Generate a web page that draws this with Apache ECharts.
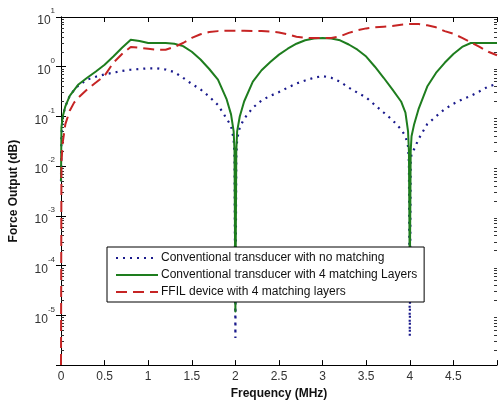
<!DOCTYPE html>
<html>
<head>
<meta charset="utf-8">
<script src="https://cdn.jsdelivr.net/npm/echarts@6/dist/echarts.min.js"></script>
<style>
html,body{margin:0;padding:0;background:#fff;}
#chart{width:500px;height:405px;}
</style>
</head>
<body>
<div id="chart"></div>
<script>
// Frequency samples (MHz)
var frequency = [0, 0.005, 0.02, 0.05, 0.1, 0.15, 0.2, 0.3, 0.4, 0.5, 0.6, 0.7, 0.8, 0.9, 1.0, 1.1, 1.2, 1.3, 1.4, 1.5, 1.6, 1.7, 1.8, 1.9, 1.95, 1.98, 1.99, 2.0, 2.01, 2.02, 2.05, 2.1, 2.2, 2.3, 2.4, 2.5, 2.6, 2.7, 2.8, 2.9, 3.0, 3.1, 3.2, 3.3, 3.4, 3.5, 3.6, 3.7, 3.8, 3.9, 3.95, 3.98, 3.99, 4.0, 4.01, 4.02, 4.05, 4.1, 4.2, 4.3, 4.4, 4.5, 4.6, 4.7, 4.8, 4.9, 5.0];

// Conventional transducer with no matching (blue dotted)
var noMatching = [0.005, 0.04, 0.1, 0.16, 0.26, 0.34, 0.42, 0.55, 0.63, 0.7, 0.76, 0.82, 0.87, 0.9, 0.93, 0.93, 0.88, 0.78, 0.6, 0.45, 0.35, 0.25, 0.17, 0.09, 0.065, 0.035, 0.015, 3.5e-6, 0.015, 0.035, 0.06, 0.09, 0.15, 0.21, 0.26, 0.31, 0.38, 0.46, 0.53, 0.6, 0.65, 0.6, 0.5, 0.38, 0.3, 0.24, 0.17, 0.12, 0.085, 0.055, 0.04, 0.025, 0.012, 3.8e-6, 0.012, 0.018, 0.022, 0.035, 0.07, 0.1, 0.14, 0.18, 0.22, 0.26, 0.32, 0.4, 0.45];

// Conventional transducer with 4 matching layers (green solid)
var fourLayers = [0.005, 0.06, 0.1, 0.16, 0.26, 0.34, 0.44, 0.6, 0.8, 1.1, 1.6, 2.4, 3.5, 3.3, 3.0, 3.0, 3.0, 2.9, 2.6, 2.0, 1.4, 0.9, 0.55, 0.22, 0.11, 0.05, 0.02, 1.2e-5, 0.02, 0.05, 0.1, 0.2, 0.5, 0.85, 1.25, 1.75, 2.3, 2.9, 3.4, 3.7, 3.8, 3.7, 3.4, 2.8, 2.2, 1.6, 1.0, 0.6, 0.35, 0.2, 0.12, 0.05, 0.02, 5e-5, 0.02, 0.04, 0.07, 0.14, 0.4, 0.75, 1.2, 1.8, 2.5, 3.0, 3.0, 3.0, 3.0];

// FFIL device with 4 matching layers (red dashed)
var ffil = [1e-6, 0.012, 0.03, 0.07, 0.13, 0.19, 0.24, 0.35, 0.48, 0.66, 1.2, 1.8, 2.5, 2.4, 2.3, 2.2, 2.2, 2.5, 3.0, 3.8, 4.5, 5.0, 5.2, 5.3, 5.3, 5.3, 5.3, 5.3, 5.3, 5.3, 5.3, 5.3, 5.2, 5.2, 5.1, 4.9, 4.5, 4.0, 3.8, 3.8, 3.8, 3.8, 4.1, 4.8, 5.4, 5.9, 6.2, 6.4, 6.6, 7.0, 7.1, 7.2, 7.2, 7.2, 7.2, 7.2, 7.2, 7.2, 6.8, 6.2, 5.2, 4.6, 3.8, 3.1, 2.5, 2.0, 1.7];

var seriesNames = ['Conventional transducer with no matching', 'Conventional transducer with 4 matching Layers', 'FFIL device with 4 matching layers'];
var xTickLabels = [0, 0.5, 1, 1.5, 2, 2.5, 3, 3.5, 4, 4.5];
var yLabelExponents = [-5, -4, -3, -2, -1, 0, 1];

function pairs(ys) {
  return frequency.map(function (f, i) { return [f, ys[i]]; });
}

// minor log tick positions (2..9 x 10^d)
var minorTickValues = [];
for (var d = -6; d < 1; d++) {
  for (var k = 2; k <= 9; k++) minorTickValues.push(k * Math.pow(10, d));
}

var font = 'Liberation Sans, Arial, sans-serif';
var chart = echarts.init(document.getElementById('chart'), null, {renderer: 'canvas'});

var xCommon = {
  type: 'value', min: 0, max: 5, interval: 0.5,
  axisLine: {show: true, onZero: false, lineStyle: {color: '#000', width: 1}},
  axisTick: {show: true, inside: true, length: 5, lineStyle: {color: '#000'}},
  splitLine: {show: false}
};
var yCommon = {
  type: 'log', logBase: 10, min: 1e-6, max: 10,
  axisLine: {show: true, lineStyle: {color: '#000', width: 1}},
  axisTick: {show: true, inside: true, length: 5, lineStyle: {color: '#000'}},
  splitLine: {show: false}
};
var yMinor = {
  type: 'log', logBase: 10, min: 1e-6, max: 10,
  axisLine: {show: false},
  axisLabel: {show: false},
  splitLine: {show: false},
  axisTick: {show: true, inside: true, length: 3, customValues: minorTickValues, lineStyle: {color: '#333', width: 1}}
};

chart.setOption({
  animation: false,
  backgroundColor: '#fff',
  grid: {left: 59, right: 1, top: 17, bottom: 39, containLabel: false},
  xAxis: [
    Object.assign({}, xCommon, {
      position: 'bottom',
      name: 'Frequency (MHz)', nameLocation: 'middle', nameGap: 21,
      nameTextStyle: {fontFamily: font, fontSize: 12, fontWeight: 'bold', color: '#111'},
      axisLabel: {
        show: true, margin: 6, color: '#333', fontFamily: font, fontSize: 12,
        formatter: function (v) { return xTickLabels.indexOf(v) >= 0 ? String(v) : ''; }
      }
    }),
    Object.assign({}, xCommon, {position: 'top', axisLabel: {show: false}})
  ],
  yAxis: [
    Object.assign({}, yCommon, {
      position: 'left',
      name: 'Force Output (dB)', nameLocation: 'middle', nameGap: 41,
      nameTextStyle: {fontFamily: font, fontSize: 12, fontWeight: 'bold', color: '#111'},
      axisLabel: {
        show: true, margin: 6, color: '#333', fontFamily: font,
        formatter: function (v) {
          var e = Math.round(Math.log10(v));
          if (yLabelExponents.indexOf(e) < 0) return '';
          return '{b|10}{e|' + e + '}';
        },
        rich: {
          b: {fontSize: 12, fontFamily: font, color: '#333', lineHeight: 20, verticalAlign: 'bottom'},
          e: {fontSize: 8, fontFamily: font, color: '#333', verticalAlign: 'top', lineHeight: 20}
        }
      }
    }),
    Object.assign({}, yCommon, {position: 'right', axisLabel: {show: false}}),
    Object.assign({}, yMinor, {position: 'left'}),
    Object.assign({}, yMinor, {position: 'right'})
  ],
  legend: {
    show: true, orient: 'vertical', left: 107, top: 247,
    backgroundColor: '#fff', borderColor: '#000', borderWidth: 1, borderRadius: 0,
    padding: [5, 7, 4, 8], itemWidth: 42, itemHeight: 14, itemGap: 5,
    itemStyle: {color: 'rgba(0,0,0,0)', borderWidth: 0, opacity: 0},
    textStyle: {fontFamily: font, fontSize: 12, color: '#111', padding: [0, 0, 0, -2]},
    data: seriesNames
  },
  series: [
    {
      name: seriesNames[0], type: 'line', data: pairs(noMatching),
      xAxisIndex: 0, yAxisIndex: 0, z: 2,
      symbol: 'none', showSymbol: false, smooth: false, clip: true,
      lineStyle: {color: '#1a1a8c', width: 2.2, type: [2, 5], cap: 'butt'},
      itemStyle: {color: '#1a1a8c'}
    },
    {
      name: seriesNames[1], type: 'line', data: pairs(fourLayers),
      xAxisIndex: 0, yAxisIndex: 0, z: 3,
      symbol: 'none', showSymbol: false, smooth: false, clip: true,
      lineStyle: {color: '#1e7d1e', width: 2, type: 'solid', join: 'round'},
      itemStyle: {color: '#1e7d1e'}
    },
    {
      name: seriesNames[2], type: 'line', data: pairs(ffil),
      xAxisIndex: 0, yAxisIndex: 0, z: 4,
      symbol: 'none', showSymbol: false, smooth: false, clip: true,
      lineStyle: {color: '#c62424', width: 2, type: [11, 6]},
      itemStyle: {color: '#c62424'}
    }
  ]
});
</script>
</body>
</html>
